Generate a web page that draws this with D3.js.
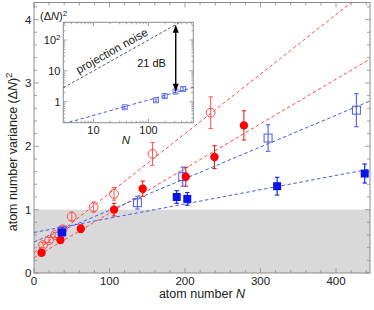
<!DOCTYPE html>
<html>
<head>
<meta charset="utf-8">
<script src="https://cdn.jsdelivr.net/npm/d3@7"></script>
<style>
  body { margin: 0; background: #fff; }
  svg { display: block; font-family: "Liberation Sans", Arial, sans-serif; }
</style>
</head>
<body>
<svg id="chart" width="374" height="310"></svg>
<script>
// open red circles
const openRedN = [12, 20, 28, 38, 50, 79, 106, 157, 234];
const openRedV = [0.44, 0.52, 0.60, 0.69, 0.89, 1.04, 1.25, 1.88, 2.53];
const openRedE = [0.04, 0.04, 0.04, 0.05, 0.07, 0.08, 0.10, 0.18, 0.25];
// filled red circles
const fillRedN = [10, 35, 62, 106, 144, 201, 239, 278];
const fillRedV = [0.32, 0.52, 0.70, 1.00, 1.33, 1.52, 1.83, 2.33];
const fillRedE = [0.03, 0.04, 0.06, 0.10, 0.12, 0.15, 0.18, 0.23];
// open blue squares (also shown in inset)
const openBlueN = [37, 137, 197, 310, 427];
const openBlueV = [0.66, 1.11, 1.52, 2.13, 2.57];
const openBlueE = [0.05, 0.10, 0.15, 0.21, 0.26];
// filled blue squares
const fillBlueN = [37, 189, 203, 322, 438];
const fillBlueV = [0.64, 1.20, 1.17, 1.37, 1.57];
const fillBlueE = [0.08, 0.10, 0.10, 0.14, 0.15];

// linear fits  v = b + m N
const fitColors = ["#ff4a4a", "#ff4a4a", "#4a5ae6", "#4a5ae6"];
const fitB = [0.32, 0.24, 0.49, 0.64];
const fitM = [0.0094, 0.00705, 0.0050, 0.00225];

// inset fit  v = c N^p
const insetC = 0.114, insetP = 0.5;
const arrowN = 313, arrowLow = 2.1;

const xTicks = [0, 100, 200, 300, 400];
const yTicks = [0, 1, 2, 3, 4];
const insetXTicks = [10, 100];
const insetYTicks = [1, 10, 100];

const svg = d3.select("#chart");
const L = 34, R = 370, T = 2.5, B = 273;

const x = d3.scaleLinear().domain([0, 445]).range([L, R]);
const y = d3.scaleLinear().domain([0, 4.27]).range([B, T]);

svg.append("clipPath").attr("id", "clipMain")
  .append("rect").attr("x", L).attr("y", T).attr("width", R - L).attr("height", B - T);

// gray band below 1
svg.append("rect")
  .attr("x", L).attr("y", y(1)).attr("width", R - L).attr("height", y(0) - y(1))
  .attr("fill", "#d9d9d9");

// frame + ticks
const tickCol = "#8c8c8c";
svg.append("rect").attr("x", L).attr("y", T).attr("width", R - L).attr("height", B - T)
  .attr("fill", "none").attr("stroke", tickCol).attr("stroke-width", 1);

const tg = svg.append("g").attr("stroke", tickCol).attr("stroke-width", 0.8);
d3.range(0, 445, 20).forEach(v => {
  const len = v % 100 === 0 ? 5 : 3;
  tg.append("line").attr("x1", x(v)).attr("x2", x(v)).attr("y1", B).attr("y2", B - len);
  tg.append("line").attr("x1", x(v)).attr("x2", x(v)).attr("y1", T).attr("y2", T + len);
});
d3.range(0, 4.27, 0.2).forEach(v => {
  const major = Math.abs(v - Math.round(v)) < 1e-6;
  const len = major ? 5 : 3;
  tg.append("line").attr("y1", y(v)).attr("y2", y(v)).attr("x1", L).attr("x2", L + len);
  tg.append("line").attr("y1", y(v)).attr("y2", y(v)).attr("x1", R).attr("x2", R - len);
});

// tick labels
svg.append("g").selectAll("text").data(xTicks).join("text")
  .attr("x", d => x(d)).attr("y", 285).attr("text-anchor", "middle")
  .attr("font-size", 11.5).attr("fill", "#222").text(d => d);
svg.append("g").selectAll("text").data(yTicks).join("text")
  .attr("x", 31.5).attr("y", d => y(d) + 4).attr("text-anchor", "end")
  .attr("font-size", 11.5).attr("fill", "#222").text(d => d);

// axis titles
const xt = svg.append("text").attr("x", 202).attr("y", 298).attr("text-anchor", "middle")
  .attr("font-size", 12.5).attr("fill", "#222");
xt.append("tspan").text("atom number ");
xt.append("tspan").attr("font-style", "italic").text("N");

const yt = svg.append("text").attr("transform", "translate(17,152) rotate(-90)")
  .attr("text-anchor", "middle").attr("font-size", 12.5).attr("fill", "#222");
yt.append("tspan").text("atom number variance (Δ");
yt.append("tspan").attr("font-style", "italic").text("N");
yt.append("tspan").text(")");
yt.append("tspan").attr("dy", -5).attr("font-size", 9).text("2");

// fit lines
svg.append("g").attr("clip-path", "url(#clipMain)")
  .selectAll("line").data(fitB).join("line")
  .attr("x1", x(0)).attr("y1", (d, i) => y(fitB[i]))
  .attr("x2", x(445)).attr("y2", (d, i) => y(fitB[i] + fitM[i] * 445))
  .attr("stroke", (d, i) => fitColors[i]).attr("stroke-width", 1)
  .attr("stroke-dasharray", "3.5,2.5");

// error bars helper
function errorBars(g, N, V, E, color, sx, sy, cap, w) {
  N.forEach((n, i) => {
    const cx = sx(n), y1 = sy(V[i] - E[i]), y2 = sy(V[i] + E[i]);
    g.append("line").attr("x1", cx).attr("x2", cx).attr("y1", y1).attr("y2", y2)
      .attr("stroke", color).attr("stroke-width", w);
    [y1, y2].forEach(yy => g.append("line")
      .attr("x1", cx - cap).attr("x2", cx + cap).attr("y1", yy).attr("y2", yy)
      .attr("stroke", color).attr("stroke-width", w));
  });
}

const pts = svg.append("g");
errorBars(pts, openRedN, openRedV, openRedE, "#ff5555", x, y, 2.2, 1);
errorBars(pts, fillRedN, fillRedV, fillRedE, "#f01010", x, y, 2.2, 1);
errorBars(pts, openBlueN, openBlueV, openBlueE, "#5a6cf0", x, y, 2.2, 1.2);
errorBars(pts, fillBlueN, fillBlueV, fillBlueE, "#1a2ae8", x, y, 2.2, 1.2);

pts.selectAll(".or").data(openRedN).join("circle")
  .attr("cx", d => x(d)).attr("cy", (d, i) => y(openRedV[i])).attr("r", 4.4)
  .attr("fill", "none").attr("stroke", "#ff4a4a").attr("stroke-width", 1);
pts.selectAll(".ob").data(openBlueN).join("rect")
  .attr("x", d => x(d) - 4).attr("y", (d, i) => y(openBlueV[i]) - 4)
  .attr("width", 8).attr("height", 8)
  .attr("fill", "none").attr("stroke", "#4a5ae6").attr("stroke-width", 1);
pts.selectAll(".fr").data(fillRedN).join("circle")
  .attr("cx", d => x(d)).attr("cy", (d, i) => y(fillRedV[i])).attr("r", 4.2)
  .attr("fill", "#ff0000");
pts.selectAll(".fb").data(fillBlueN).join("rect")
  .attr("x", d => x(d) - 4).attr("y", (d, i) => y(fillBlueV[i]) - 4)
  .attr("width", 8).attr("height", 8).attr("fill", "#0a14e8");

// ---- inset ----
const iL = 63.3, iR = 193.3, iT = 22.3, iB = 122.7;
const ix = d3.scaleLog().domain([2.83, 653]).range([iL, iR]);
const iy = d3.scaleLog().domain([0.209, 375]).range([iB, iT]);

svg.append("clipPath").attr("id", "clipInset")
  .append("rect").attr("x", iL).attr("y", iT).attr("width", iR - iL).attr("height", iB - iT);

svg.append("rect").attr("x", iL).attr("y", iT).attr("width", iR - iL).attr("height", iB - iT)
  .attr("fill", "#fff").attr("stroke", tickCol).attr("stroke-width", 1);

const itg = svg.append("g").attr("stroke", tickCol).attr("stroke-width", 0.8);
[1, 10, 100].forEach(dec => d3.range(1, 10).forEach(k => {
  const v = dec * k;
  if (v < 2.83 || v > 653) return;
  const len = k === 1 ? 4 : 2;
  itg.append("line").attr("x1", ix(v)).attr("x2", ix(v)).attr("y1", iB).attr("y2", iB - len);
  itg.append("line").attr("x1", ix(v)).attr("x2", ix(v)).attr("y1", iT).attr("y2", iT + len);
}));
[0.1, 1, 10, 100].forEach(dec => d3.range(1, 10).forEach(k => {
  const v = dec * k;
  if (v < 0.209 || v > 375) return;
  const len = k === 1 ? 4 : 2;
  itg.append("line").attr("y1", iy(v)).attr("y2", iy(v)).attr("x1", iL).attr("x2", iL + len);
  itg.append("line").attr("y1", iy(v)).attr("y2", iy(v)).attr("x1", iR).attr("x2", iR - len);
}));

svg.append("g").selectAll("text").data(insetXTicks).join("text")
  .attr("x", d => ix(d)).attr("y", 134).attr("text-anchor", "middle")
  .attr("font-size", 11).attr("fill", "#222").text(d => d);
const iyl = svg.append("g").selectAll("text").data(insetYTicks).join("text")
  .attr("x", 60.5).attr("y", d => iy(d) + 4).attr("text-anchor", "end")
  .attr("font-size", 11).attr("fill", "#222");
iyl.each(function(d) {
  const t = d3.select(this);
  if (d === 100) {
    t.append("tspan").text("10");
    t.append("tspan").attr("dy", -4).attr("font-size", 8).text("2");
  } else t.text(d);
});

svg.append("text").attr("x", 126).attr("y", 144).attr("text-anchor", "middle")
  .attr("font-size", 11.5).attr("font-style", "italic").attr("fill", "#222").text("N");

const il = svg.append("text").attr("x", 40).attr("y", 19.5).attr("font-size", 11).attr("fill", "#222");
il.append("tspan").text("(Δ");
il.append("tspan").attr("font-style", "italic").text("N");
il.append("tspan").text(")");
il.append("tspan").attr("dy", -4).attr("font-size", 8).text("2");

const ig = svg.append("g").attr("clip-path", "url(#clipInset)");
// projection noise  (variance = N)
ig.append("line")
  .attr("x1", ix(2.83)).attr("y1", iy(2.83)).attr("x2", ix(653)).attr("y2", iy(653))
  .attr("stroke", "#333").attr("stroke-width", 0.8).attr("stroke-dasharray", "3,2");
// inset fit
ig.append("line")
  .attr("x1", ix(2.83)).attr("y1", iy(insetC * Math.pow(2.83, insetP)))
  .attr("x2", ix(653)).attr("y2", iy(insetC * Math.pow(653, insetP)))
  .attr("stroke", "#4a5ae6").attr("stroke-width", 1).attr("stroke-dasharray", "3.5,2.5");

errorBars(ig, openBlueN, openBlueV, openBlueE, "#4a5ae6", ix, iy, 1.5, 0.8);
ig.selectAll(".is").data(openBlueN).join("rect")
  .attr("x", d => ix(d) - 2.5).attr("y", (d, i) => iy(openBlueV[i]) - 2.5)
  .attr("width", 5).attr("height", 5)
  .attr("fill", "none").attr("stroke", "#4a5ae6").attr("stroke-width", 0.8);

// projection noise label
const angle = Math.atan2(iy(10) - iy(100), ix(100) - ix(10)) * 180 / Math.PI;
const lx = 116, lN = ix.invert(lx), ly = iy(lN);
svg.append("text")
  .attr("transform", `translate(${lx},${ly}) rotate(${-angle}) translate(0,-4.5)`)
  .attr("text-anchor", "middle").attr("font-size", 11.5).attr("fill", "#222")
  .text("projection noise");

// 21 dB arrow
const ax = ix(arrowN), aTop = iy(arrowN), aBot = iy(arrowLow);
svg.append("line").attr("x1", ax).attr("x2", ax).attr("y1", aTop + 6).attr("y2", aBot - 6)
  .attr("stroke", "#000").attr("stroke-width", 1.4);
svg.append("path")
  .attr("d", `M${ax},${aTop} L${ax - 3},${aTop + 8} L${ax + 3},${aTop + 8} Z M${ax},${aBot} L${ax - 3},${aBot - 8} L${ax + 3},${aBot - 8} Z`)
  .attr("fill", "#000");
svg.append("text").attr("x", 151.5).attr("y", 66.5).attr("text-anchor", "middle")
  .attr("font-size", 11).attr("fill", "#111").text("21 dB");
</script>
</body>
</html>
